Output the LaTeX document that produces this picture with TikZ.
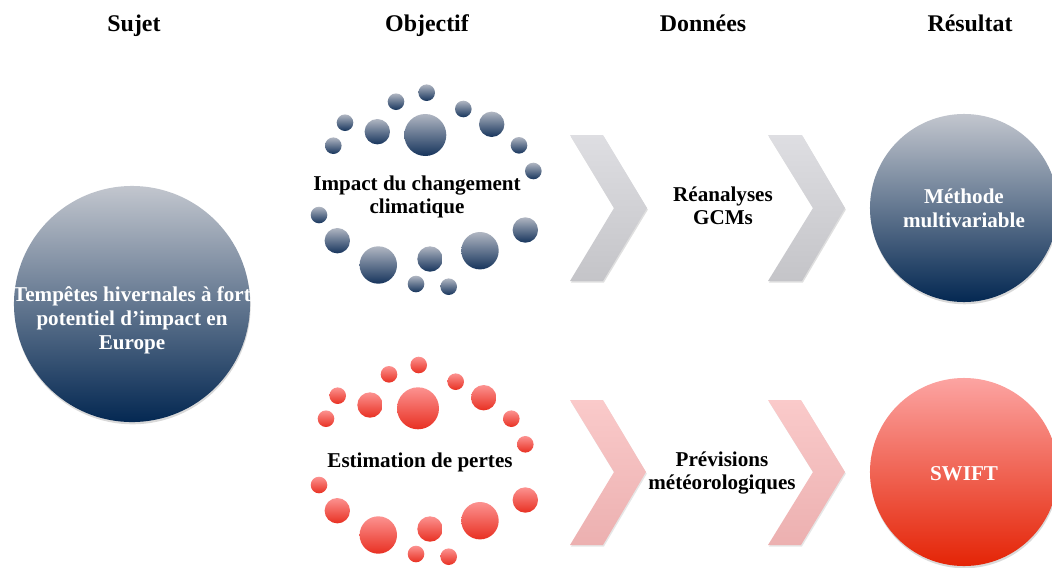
\documentclass[tikz,border=0pt]{standalone}
\usepackage{fontspec}
\setmainfont{Liberation Serif}
\usetikzlibrary{shadows}

\definecolor{navytop}{RGB}{194,198,206}
\definecolor{navybot}{RGB}{4,40,82}
\definecolor{redtop}{RGB}{252,164,162}
\definecolor{redbot}{RGB}{228,36,6}
\definecolor{bubtop}{RGB}{176,182,194}
\definecolor{bubbot}{RGB}{22,52,92}
\definecolor{rbubtop}{RGB}{252,146,144}
\definecolor{rbubbot}{RGB}{232,48,34}
\definecolor{chevtop}{RGB}{222,222,226}
\definecolor{chevbot}{RGB}{196,196,200}
\definecolor{pchevtop}{RGB}{250,202,202}
\definecolor{pchevbot}{RGB}{236,176,176}

\begin{document}
\begin{tikzpicture}[x=0.025cm, y=-0.025cm,
  bluedisc/.style={
    circle, top color=navytop, bottom color=navybot, inner sep=0pt,
    drop shadow={shadow xshift=0.4pt, shadow yshift=-1.6pt, opacity=0.3}
  },
  reddisc/.style={
    circle, top color=redtop, bottom color=redbot, inner sep=0pt,
    drop shadow={shadow xshift=0.4pt, shadow yshift=-1.6pt, opacity=0.3}
  },
  bluebub/.style={top color=bubtop, bottom color=bubbot},
  redbub/.style={top color=rbubtop, bottom color=rbubbot},
  greychev/.style={top color=chevtop, bottom color=chevbot,
    drop shadow={shadow xshift=0.6pt, shadow yshift=-1.2pt, opacity=0.25}},
  pinkchev/.style={top color=pchevtop, bottom color=pchevbot,
    drop shadow={shadow xshift=0.6pt, shadow yshift=-1.2pt, opacity=0.2}},
  headtxt/.style={font=\fontsize{17}{20}\selectfont\bfseries, anchor=base},
  whitetxt/.style={font=\fontsize{15}{17.2}\selectfont\bfseries, text=white, align=center},
  blacktxt/.style={font=\fontsize{15}{16.4}\selectfont\bfseries, text=black, align=center},
]
\useasboundingbox (0,0) rectangle (1052,567);

%% Column headings
\node[headtxt] (hsujet) at (134,31) {Sujet};
\node[headtxt] (hobj)   at (427,31) {Objectif};
\node[headtxt] (hdon)   at (703,31) {Données};
\node[headtxt] (hres)   at (970,31) {Résultat};

%% Sujet
\node[bluedisc, minimum size=5.9cm] (sujet) at (132,304) {};
\node[whitetxt] (sujettxt) at (132,320)
  {Tempêtes hivernales à fort\\potentiel d’impact en\\Europe};

%% Objectif: bubble rings
\foreach \x/\y/\r in {426.7/92.7/8.3, 396/101.7/8.3, 463.3/109/8.3,
    345/122.7/8.3, 377.3/131.7/12.7, 425.3/135/21, 491.7/124.3/12.7,
    333.3/145.7/8.3, 519/145.3/8.3, 533.3/171/8.3, 319/215/8.3,
    525.3/230/12.7, 337.3/240.7/12.7, 480/250.7/18.7, 430/259/12.7,
    378.3/265/18.7, 416/284/8.3, 448.7/286.7/8.3}
  \shade[bluebub] (\x,\y) circle (\r);
\node[blacktxt] (impact) at (417,197) {Impact du changement\\climatique};

\foreach \x/\y/\r in {418.7/365/8.3, 389/374.3/8.3, 455.7/381.7/8.3,
    337.7/395.7/8.3, 370/405/12.7, 418/408.3/21, 483.7/397.7/12.7,
    326/418.7/8.3, 511.3/418.7/8.3, 525.3/444.3/8.3, 319/485/8.3,
    525.3/500/12.7, 337.3/510.7/12.7, 480/520.7/18.7, 430/529/12.7,
    378.3/535/18.7, 416/554/8.3, 448.7/556.7/8.3}
  \shade[redbub] (\x,\y) circle (\r);
\node[blacktxt] (pertes) at (420,462) {Estimation de pertes};

%% Donnees: chevrons
\shade[greychev] (570,135) -- (603,135) -- (647,208) -- (603,281) -- (570,281) -- (614,208) -- cycle;
\shade[greychev] (768,135) -- (802,135) -- (845,208) -- (802,281) -- (768,281) -- (813,208) -- cycle;
\shade[pinkchev] (570,400) -- (603,400) -- (646,472) -- (603,545) -- (570,545) -- (614,472) -- cycle;
\shade[pinkchev] (768,400) -- (801,400) -- (845,472) -- (801,545) -- (768,545) -- (813,472) -- cycle;

\node[blacktxt] (rea)  at (723,206) {Réanalyses\\GCMs};
\node[blacktxt] (prev) at (722,473) {Prévisions\\météorologiques};

%% Resultat
\node[bluedisc, minimum size=4.7cm] (methode) at (964,208) {};
\node[whitetxt] (methodetxt) at (964,208) {Méthode\\multivariable};
\node[reddisc, minimum size=4.7cm] (swift) at (964,472) {};
\node[whitetxt] (swifttxt) at (964,474) {SWIFT};

\end{tikzpicture}
\end{document}
